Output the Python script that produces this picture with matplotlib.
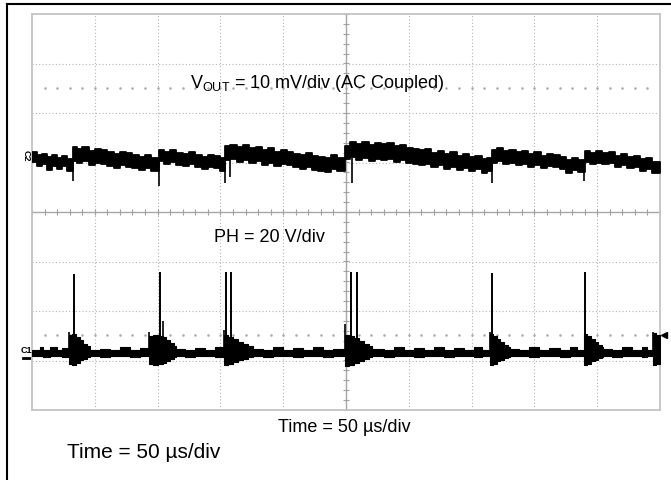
import matplotlib.pyplot as plt
import numpy as np
from matplotlib.lines import Line2D

plt.rcParams['font.family'] = ['Liberation Sans', 'DejaVu Sans']

# scope settings
TIME_PER_DIV = 50      # us
VOUT_PER_DIV = 10      # mV
PH_PER_DIV = 20        # V
VOUT_OFFSET = 1.07     # div, channel 2 marker
PH_OFFSET = -2.83      # div, channel 1 marker
TRIG_LEVEL = -2.48     # div

# V_OUT ripple band (AC coupled), mV
vout_t = [0, 4, 8, 12, 16, 20, 24, 28,
          32.6, 36, 40, 45, 50, 55, 60, 65, 70, 75, 80, 85, 90, 95,
          101, 105, 110, 115, 120, 125, 130, 135, 140, 145, 150,
          154, 158, 163, 168, 173, 178, 183, 188, 193, 198, 203, 208, 213, 218, 223, 228, 233, 238, 243,
          249, 253, 258, 263, 268, 273, 278, 283, 288, 293, 298, 303, 308, 313, 318, 323, 328, 333,
          338, 343, 348, 353, 358, 362,
          366, 370, 375, 380, 385, 390, 395, 400, 405, 410, 415, 420, 425, 430, 435,
          440, 444, 449, 454, 459, 464, 469, 474, 479, 484, 489, 494, 500]
vout_hi = [1.4, 0.8, 1.0, 0.4, 0.9, 0.2, 0.6, 0.0,
           2.4, 2.0, 2.4, 1.6, 2.0, 1.8, 1.4, 1.0, 1.4, 1.2, 0.8, 0.4, 0.8, 0.2,
           1.8, 1.4, 1.8, 1.2, 1.0, 1.4, 0.8, 0.4, 0.8, 0.6, 0.2,
           2.6, 2.8, 2.4, 2.8, 2.2, 2.4, 1.8, 2.2, 1.4, 1.8, 1.4, 1.0, 0.8, 1.2, 0.6, 0.4, 0.2, 0.8, 0.2,
           2.6, 3.4, 3.0, 3.4, 2.8, 3.2, 3.0, 3.2, 2.6, 2.8, 2.2, 2.0, 1.8, 2.0, 1.2, 1.6, 1.0, 1.4,
           0.6, 1.0, 0.4, 0.6, 0.0, 0.2,
           1.8, 2.2, 1.6, 1.8, 1.4, 1.6, 1.0, 1.4, 0.6, 1.0, 0.8, 0.4, -0.2, 0.2, -0.2,
           1.6, 1.2, 1.6, 1.2, 1.4, 0.6, 1.0, 0.4, 0.6, 0.0, 0.2, -0.6, -0.6]
vout_lo = [-0.6, -1.4, -1.0, -2.2, -1.5, -2.0, -1.4, -2.4,
           -0.4, -0.8, -0.4, -1.2, -0.8, -1.0, -1.4, -1.8, -1.2, -1.6, -1.8, -2.2, -1.8, -2.4,
           -0.4, -1.0, -0.6, -1.2, -1.4, -1.0, -1.6, -2.0, -1.6, -1.8, -2.4,
           -0.2, 0.0, -0.6, -0.2, -0.8, -0.4, -1.2, -0.8, -1.4, -1.0, -1.2, -1.6, -2.0, -1.6, -2.2, -2.4, -2.6, -2.0, -2.4,
           0.0, 0.4, -0.2, 0.2, -0.4, 0.0, -0.2, 0.0, -0.6, -0.2, -0.8, -1.0, -1.2, -1.0, -1.6, -1.2, -2.0, -1.6,
           -2.2, -1.8, -2.4, -2.0, -2.8, -2.4,
           -0.8, -0.4, -1.0, -0.8, -1.2, -1.0, -1.6, -1.2, -1.8, -1.4, -1.6, -2.0, -2.8, -2.2, -2.6,
           -0.6, -1.0, -0.8, -1.0, -0.8, -1.6, -1.2, -1.8, -1.6, -2.4, -2.0, -2.8, -2.8]
# short negative dips on V_OUT at the switching bursts
vout_dip_t = [32.6, 101, 153.7, 157.6, 255, 366, 439.5]
vout_dip_v = [-4.4, -5.5, -4.8, -3.6, -4.8, -4.8, -4.4]

# PH node envelope, V
ph_t = [0, 6, 9, 14, 20, 24,
        29.5, 32, 35, 38, 41, 44,
        46, 54, 62, 70, 78, 86,
        93, 96, 100, 104, 107, 110, 113,
        115, 122, 130, 138, 146,
        153, 156, 160, 164, 168, 172,
        176, 184, 192, 200, 208, 216, 224, 232, 240,
        249, 252, 256, 260, 264, 268,
        271, 280, 288, 296, 304, 312, 320, 328, 336, 344, 352, 358,
        364.6, 367, 370, 373, 376, 379,
        380.6, 388, 396, 404, 412, 420, 428, 434,
        439.5, 442, 445, 448, 451, 454,
        454.6, 462, 470, 478, 486, 490,
        494.4, 497, 500]
ph_hi = [1.0, 2.2, 1.0, 2.2, 1.0, 1.6,
         7.0, 7.2, 6.0, 4.8, 3.4, 2.4,
         1.0, 1.4, 1.0, 2.2, 1.0, 1.6,
         6.6, 7.0, 6.6, 6.0, 5.0, 3.8, 2.4,
         1.4, 1.0, 1.8, 1.0, 2.2,
         6.8, 6.2, 5.2, 4.2, 3.2, 2.4,
         1.4, 1.0, 2.2, 1.0, 1.8, 1.0, 2.2, 1.0, 1.4,
         7.0, 6.6, 5.6, 4.6, 3.4, 2.4,
         1.4, 1.0, 2.2, 1.0, 1.8, 1.0, 2.2, 1.0, 1.8, 1.0, 2.2, 1.0,
         7.4, 6.4, 5.2, 4.0, 3.0, 2.0,
         1.4, 1.0, 2.2, 1.0, 1.8, 1.0, 2.2, 1.0,
         7.4, 6.4, 5.2, 4.0, 3.0, 2.0,
         1.4, 1.0, 2.2, 1.0, 2.2, 1.0,
         7.6, 7.0, 7.0]
ph_lo = [-1.4, -1.4, -1.8, -1.4, -1.4, -1.8,
         -5.0, -5.4, -4.4, -3.4, -2.6, -2.0,
         -1.4, -1.8, -1.4, -1.4, -1.8, -1.4,
         -5.0, -5.4, -5.0, -4.4, -3.6, -2.8, -2.0,
         -1.4, -1.8, -1.4, -1.4, -1.8,
         -5.4, -5.0, -4.2, -3.4, -2.6, -2.0,
         -1.4, -1.8, -1.4, -1.4, -1.8, -1.4, -1.4, -1.8, -1.4,
         -5.8, -5.4, -4.6, -3.6, -2.8, -2.0,
         -1.4, -1.8, -1.4, -1.4, -1.8, -1.4, -1.4, -1.8, -1.4, -1.4, -1.8, -1.4,
         -5.4, -4.8, -3.8, -3.0, -2.4, -1.8,
         -1.4, -1.4, -1.8, -1.4, -1.4, -1.8, -1.4, -1.4,
         -5.4, -4.8, -3.8, -3.0, -2.4, -1.8,
         -1.4, -1.8, -1.4, -1.4, -1.8, -1.4,
         -5.4, -5.0, -5.0]
# tall switching spikes and the smaller leading ones, V
ph_spike_t = [33.4, 102, 154.5, 158.4, 254, 258.8, 366.2, 440]
ph_spike_v = [31.5, 32.3, 32.3, 32.3, 32.3, 32.3, 31.9, 32.3]
ph_small_t = [29.5, 93, 104.3, 153, 249, 364.6, 494.4]
ph_small_v = [8.0, 8.0, 12.5, 9.0, 11.3, 8.0, 8.0]

W, H = 671, 481
fig = plt.figure(figsize=(W / 100, H / 100), dpi=100)
ax = fig.add_axes([32 / W, 1 - 411 / H, 628 / W, 396 / H])
ax.set_xlim(0, 10 * TIME_PER_DIV)
ax.set_ylim(-4, 4)
ax.set_xticks([])
ax.set_yticks([])
for sp in ax.spines.values():
    sp.set_color('#c4c4c4')
    sp.set_linewidth(1.3)

# graticule
GRID = dict(color='#b4b4b4', lw=0.8, ls=(0, (1, 2)), zorder=1)
for k in range(1, 10):
    if k != 5:
        ax.axvline(k * TIME_PER_DIV, **GRID)
for k in range(-3, 4):
    if k != 0:
        ax.axhline(k, **GRID)
ax.axvline(5 * TIME_PER_DIV, color='#a8a8a8', lw=1.0, zorder=1)
ax.axhline(0, color='#a8a8a8', lw=1.0, zorder=1)
minor_t = np.arange(0, 10 * TIME_PER_DIV + 1, TIME_PER_DIV / 5)
minor_v = np.arange(-4, 4.01, 0.2)
ax.plot(minor_t, np.zeros_like(minor_t), ls='none', marker='|', ms=5, mew=0.8, color='#a0a0a0', zorder=1)
ax.plot(np.full_like(minor_v, 5 * TIME_PER_DIV), minor_v, ls='none', marker='_', ms=5, mew=0.8, color='#a0a0a0', zorder=1)
for lvl in (2.5, TRIG_LEVEL):
    ax.plot(minor_t[1:-1], np.full(len(minor_t) - 2, lvl), ls='none', marker='.', ms=1.6, color='#a8a8a8', zorder=1)

# channel 2: V_OUT
vt = np.array(vout_t)
ax.fill_between(vt, VOUT_OFFSET + np.array(vout_hi) / VOUT_PER_DIV,
                VOUT_OFFSET + np.array(vout_lo) / VOUT_PER_DIV,
                step='post', color='black', lw=1.3, zorder=3)
dip_base = VOUT_OFFSET + np.interp(vout_dip_t, vt, vout_lo) / VOUT_PER_DIV
ax.vlines(vout_dip_t, dip_base, VOUT_OFFSET + np.array(vout_dip_v) / VOUT_PER_DIV,
          color='black', lw=1.2, zorder=3)

# channel 1: PH
pt = np.array(ph_t)
ax.fill_between(pt, PH_OFFSET + np.array(ph_hi) / PH_PER_DIV,
                PH_OFFSET + np.array(ph_lo) / PH_PER_DIV,
                step='post', color='black', lw=0.8, zorder=3)
ax.vlines(ph_spike_t, PH_OFFSET, PH_OFFSET + np.array(ph_spike_v) / PH_PER_DIV,
          color='black', lw=1.4, zorder=3)
ax.vlines(ph_small_t, PH_OFFSET, PH_OFFSET + np.array(ph_small_v) / PH_PER_DIV,
          color='black', lw=1.2, zorder=3)

# channel markers and trigger level
ax.text(-4.8, VOUT_OFFSET + 0.08, 'C2', fontsize=6.5, fontweight='bold', ha='center', va='center',
        rotation=270, clip_on=False)
ax.text(-4.8, PH_OFFSET + 0.06, 'C1', fontsize=6.5, fontweight='bold', ha='center', va='center',
        clip_on=False)
ax.plot([-7.5, -1.5], [PH_OFFSET - 0.12, PH_OFFSET - 0.12], color='black', lw=2, clip_on=False)
ax.plot([503], [TRIG_LEVEL], marker='<', ms=5, color='black', clip_on=False)

# labels
FS = 13
ax.text(226.9, 2.525, r'$\mathregular{V_{OUT}}$ = 10 mV/div (AC Coupled)', fontsize=FS,
        ha='center', va='baseline', zorder=5)
ax.text(189, -0.586, 'PH = 20 V/div', fontsize=FS, ha='center', va='baseline', zorder=5)
ax.text(248.4, -4.42, 'Time = 50 µs/div', fontsize=FS, ha='center', va='baseline', clip_on=False)
fig.text(67 / W, (H - 458) / H, 'Time = 50 µs/div', fontsize=15, ha='left', va='baseline')

# page frame lines
fig.add_artist(Line2D([7 / W, 1], [1 - 5 / H, 1 - 5 / H], color='black', lw=1.5))
fig.add_artist(Line2D([7 / W, 7 / W], [0, 1 - 5 / H], color='black', lw=1.5))

fig.savefig('out.png', dpi=100)
